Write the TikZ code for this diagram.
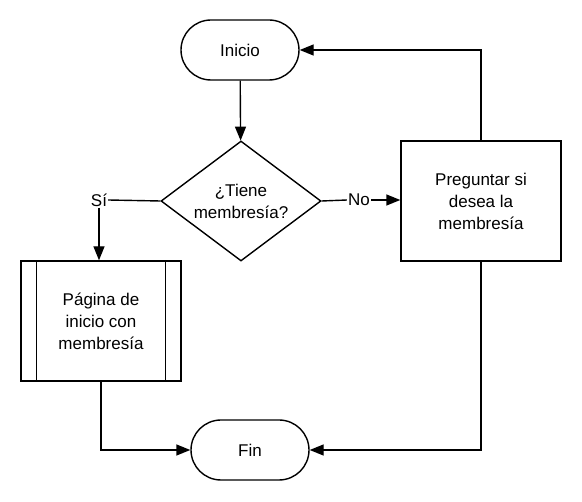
\documentclass[tikz,border=0pt]{standalone}
\usepackage{fontspec}
\setmainfont{Liberation Sans}
\usetikzlibrary{shapes.geometric,arrows.meta,positioning}
\begin{document}
\begin{tikzpicture}[x=1pt,y=-1pt,
  every node/.style={font=\fontsize{17}{22}\selectfont},
  conn/.style={line width=1.4pt,-{Triangle[length=14pt,width=11pt]}},
  plain/.style={line width=1.4pt},
  term/.style={draw,line width=1.4pt,rounded corners=30pt,minimum width=118pt,minimum height=60pt,inner sep=0pt},
  dec/.style={draw,line width=1.4pt,diamond,aspect=1.333,minimum width=160pt,minimum height=120pt,inner sep=0pt,align=center},
  procbox/.style={draw,line width=1.4pt,minimum width=160pt,minimum height=120pt,inner sep=0pt,align=center}
]
\useasboundingbox (0,0) rectangle (582,502);
\node[term] (inicio) at (240,50) {Inicio};
\node[dec] (tiene) at (241,201) {¿Tiene\\membresía?};
\node[procbox] (preg) at (481,201) {Preguntar si\\desea la\\membresía};
\node[procbox] (pag) at (101,321) {Página de\\inicio con\\membresía};
\draw[plain] ([xshift=16pt]pag.north west) -- ([xshift=16pt]pag.south west);
\draw[plain] ([xshift=-16pt]pag.north east) -- ([xshift=-16pt]pag.south east);
\node[term] (fin) at (250,450) {Fin};
\node[inner sep=1pt] (si) at (99,200) {Sí};
\node[inner sep=1pt] (no) at (359,200) {No};
\draw[conn] (inicio) -- (tiene);
\draw[plain] (tiene.west) -- (si.east);
\draw[conn] (si.south) -- (si.south |- pag.north);
\draw[plain] (tiene.east) -- (no.west);
\draw[conn] (no.east) -- (preg.west |- no.east);
\draw[conn] (preg.north) |- (inicio.east);
\draw[conn] (preg.south) |- (fin.east);
\draw[conn] (pag.south) |- (fin.west);
\end{tikzpicture}
\end{document}
